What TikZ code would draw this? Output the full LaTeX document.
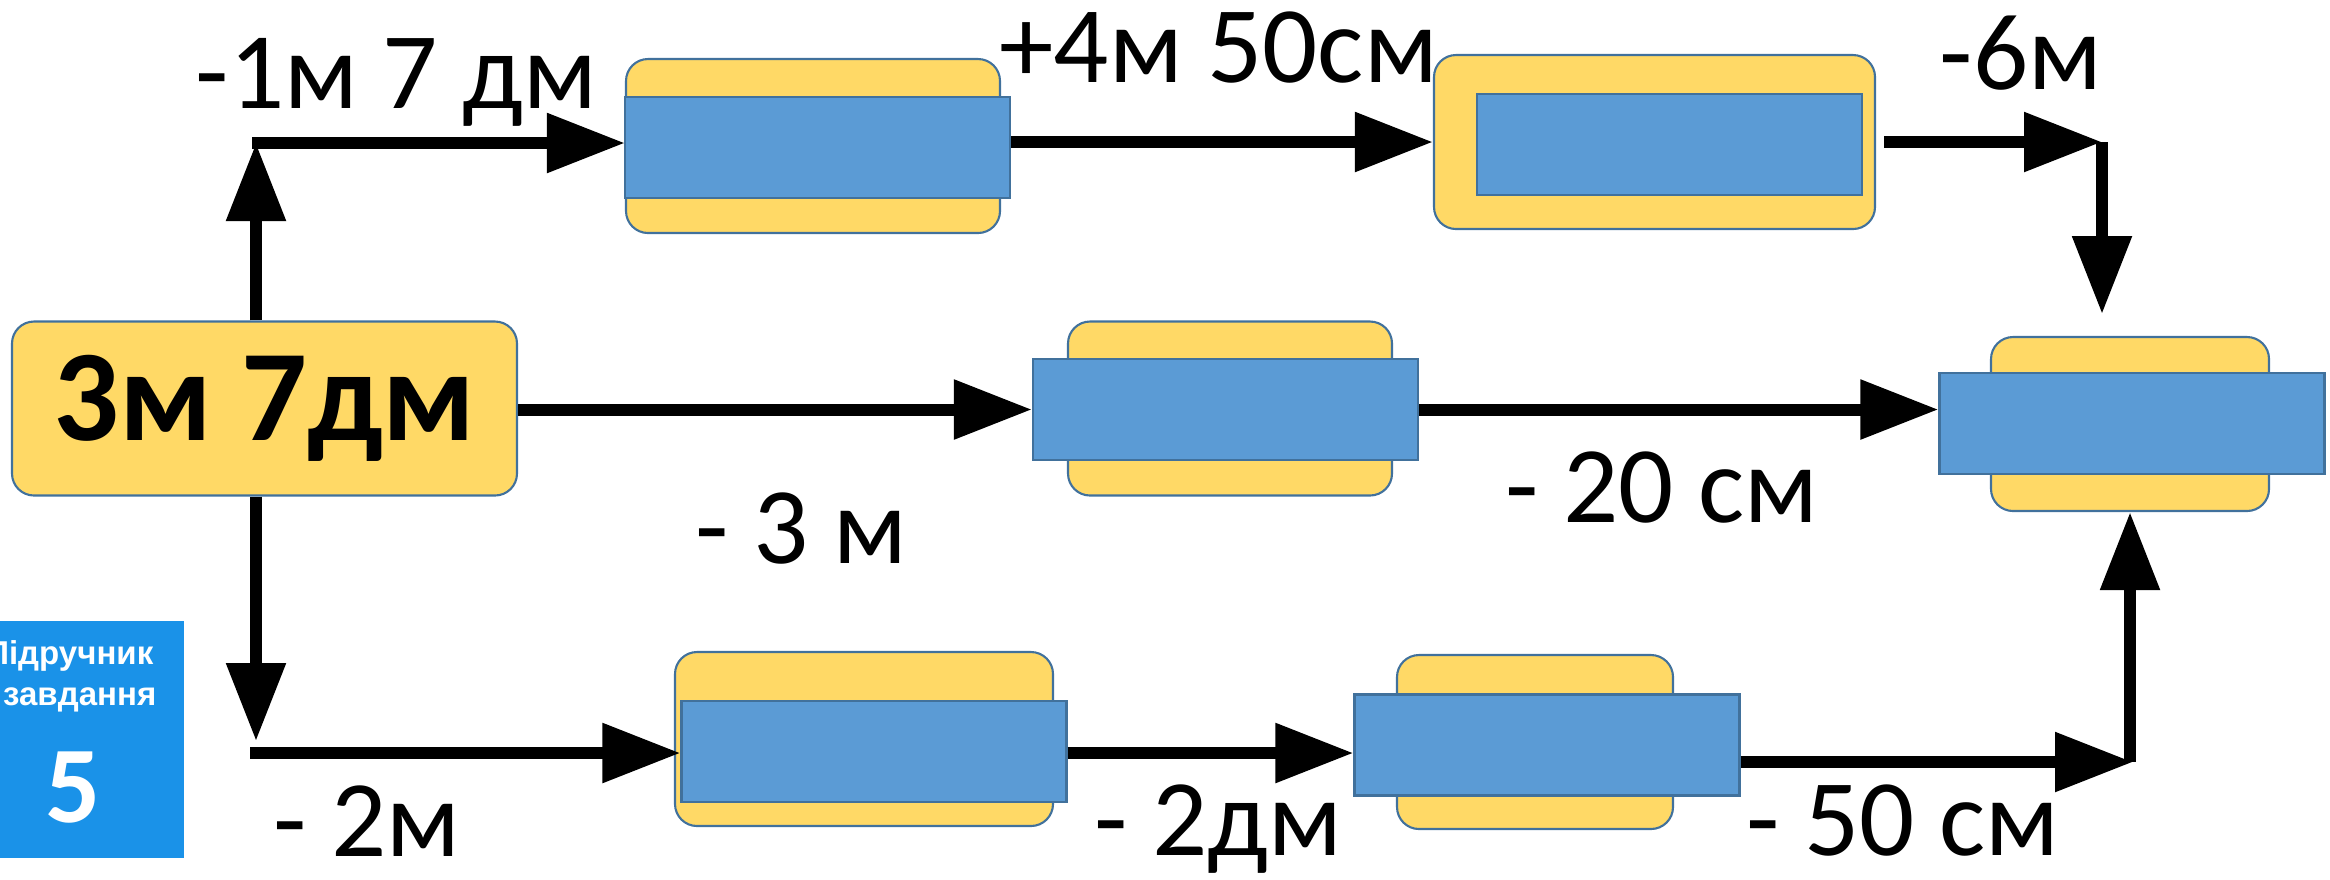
\documentclass[tikz,border=0pt]{standalone}
\usepackage{fontspec}
\setmainfont{Carlito}
\newfontfamily\insfont{Liberation Sans}
\usetikzlibrary{arrows.meta}

\begin{document}
\begin{tikzpicture}[x=1cm, y=-1cm,
    every node/.style={font=\fontsize{31}{36}\selectfont},
    amarilla/.style={draw=borde, fill=amarillo, line width=0.6pt, rounded corners=0.22cm,
                     inner sep=0pt, minimum height=1.74cm},
    azul/.style={draw=borde, fill=azulcaja, line width=0.6pt, inner sep=0pt,
                 minimum width=3.85cm, minimum height=1.01cm},
    flecha/.style={line width=0.12cm, -{Triangle[length=0.78cm, width=0.57cm]}},
    etiqueta/.style={anchor=base west, inner sep=0pt}]

    % colores
    \definecolor{amarillo}{HTML}{FFD966}
    \definecolor{azulcaja}{HTML}{5B9BD5}
    \definecolor{borde}{HTML}{41719C}
    \definecolor{insignia}{RGB}{26,146,232}

    % marco de la figura
    \clip (0,0) rectangle (23.30,8.79);

    % --- Caja inicial ---
    \node[amarilla, minimum width=5.05cm, font=\fontsize{37}{42}\selectfont\bfseries]
        (inicio) at (2.645,4.085) {3м 7дм};

    % --- Fila superior ---
    \node[amarilla, minimum width=3.74cm] (sup1) at (8.13,1.46) {};
    \node[azul] (sup1a) at (8.175,1.475) {};
    \node[amarilla, minimum width=4.41cm] (sup2) at (16.545,1.42) {};
    \node[azul] (sup2a) at (16.695,1.445) {};

    % --- Fila central ---
    \node[amarilla, minimum width=3.24cm] (cen1) at (12.30,4.085) {};
    \node[azul] (cen1a) at (12.255,4.095) {};
    \node[amarilla, minimum width=2.78cm] (fin) at (21.30,4.24) {};
    \node[azul] (fina) at (21.32,4.235) {};

    % --- Fila inferior ---
    \node[amarilla, minimum width=3.78cm] (inf1) at (8.64,7.39) {};
    \node[azul] (inf1a) at (8.74,7.515) {};
    \node[amarilla, minimum width=2.76cm] (inf2) at (15.35,7.42) {};
    \node[azul] (inf2a) at (15.47,7.45) {};

    % puntos de giro
    \coordinate (giro1) at (2.56,1.43);
    \coordinate (giro2) at (21.02,1.42);
    \coordinate (baja2) at (21.02,3.14);
    \coordinate (giro3) at (2.56,7.41);
    \coordinate (sale3) at (2.50,7.53);
    \coordinate (giro4) at (21.30,7.62);

    % flechas
    \draw[flecha] (giro1 |- inicio.north) -- (giro1);
    \draw[flecha] ([xshift=-0.04cm]giro1) -- (giro1 -| sup1.west);
    \draw[flecha] (sup1a.east |- sup2.west) -- (sup2.west);
    \draw[flecha] ([xshift=0.08cm]sup2.east) -- (giro2);
    \draw[flecha] (giro2) -- (baja2);
    \draw[flecha] (inicio.east |- cen1a.west) -- (cen1a.west);
    \draw[flecha] (cen1a.east) -- (cen1a.east -| fina.west);
    \draw[flecha] (giro3 |- inicio.south) -- (giro3);
    \draw[flecha] (sale3) -- (sale3 -| inf1a.west);
    \draw[flecha] (inf1a.east |- sale3) -- (sale3 -| inf2a.west);
    \draw[flecha] (inf2a.east |- giro4) -- ([xshift=0.03cm]giro4);
    \draw[flecha] (giro4) -- (fin.south);

    % etiquetas
    \node[etiqueta] (e1) at (1.95,1.08) {-1м 7 дм};
    \node[etiqueta] (e2) at (9.99,0.82) {+4м 50см};
    \node[etiqueta] (e3) at (19.39,0.89) {-6м};
    \node[etiqueta] (e4) at (6.95,5.63) {- 3 м};
    \node[etiqueta] (e5) at (15.05,5.22) {- 20 см};
    \node[etiqueta] (e6) at (2.73,8.56) {- 2м};
    \node[etiqueta] (e7) at (10.94,8.55) {- 2дм};
    \node[etiqueta] (e8) at (17.46,8.55) {- 50 см};

    % insignia del manual
    \fill[insignia] (0,6.21) rectangle (1.84,8.58);
    \node[anchor=base east, inner sep=0pt, text=white, font=\insfont\fontsize{9.4}{11}\selectfont\bfseries]
        (manual) at (1.54,6.64) {Підручник};
    \node[anchor=base east, inner sep=0pt, text=white, font=\insfont\fontsize{9.4}{11}\selectfont\bfseries]
        (zavd) at (1.57,7.05) {завдання};
    \node[anchor=base, inner sep=0pt, text=white, font=\fontsize{31}{36}\selectfont\bfseries]
        (numero) at (0.735,8.22) {5};
\end{tikzpicture}
\end{document}
